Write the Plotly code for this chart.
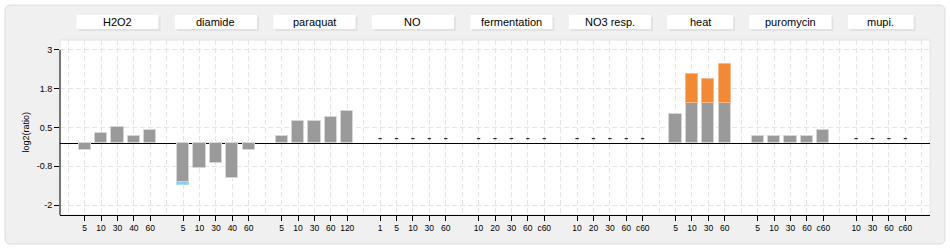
import plotly.graph_objects as go

# ---------------- data ----------------
groups = ["H2O2", "diamide", "paraquat", "NO", "fermentation", "NO3 resp.", "heat", "puromycin", "mupi."]
labels_h2o2 = ["5", "10", "30", "40", "60"]
labels_diamide = ["5", "10", "30", "40", "60"]
labels_paraquat = ["5", "10", "30", "60", "120"]
labels_no = ["1", "5", "10", "30", "60"]
labels_ferm = ["10", "20", "30", "60", "c60"]
labels_no3 = ["10", "20", "30", "60", "c60"]
labels_heat = ["5", "10", "30", "60"]
labels_puro = ["5", "10", "30", "60", "c60"]
labels_mupi = ["10", "30", "60", "c60"]

vals_h2o2 = [-0.23, 0.32, 0.53, 0.24, 0.42]
vals_diamide = [-1.27, -0.82, -0.63, -1.13, -0.22]
vals_paraquat = [0.24, 0.72, 0.72, 0.83, 1.03]
vals_no = [None, None, None, None, None]
vals_ferm = [None, None, None, None, None]
vals_no3 = [None, None, None, None, None]
vals_heat = [0.92, 1.28, 1.28, 1.28]
vals_puro = [0.24, 0.24, 0.24, 0.24, 0.43]
vals_mupi = [None, None, None, None]

# portions beyond the display limit (stacked in colour)
over_heat = [None, 0.96, 0.77, 1.26]          # orange, above
under_diamide = [-0.07, None, None, None, None]  # blue, below

y_tickvals = [3, 1.75, 0.5, -0.75, -2]
y_ticktext = ["3", "1.8", "0.5", "-0.8", "-2"]

group_labels = [labels_h2o2, labels_diamide, labels_paraquat, labels_no, labels_ferm,
                labels_no3, labels_heat, labels_puro, labels_mupi]
group_vals = [vals_h2o2, vals_diamide, vals_paraquat, vals_no, vals_ferm,
              vals_no3, vals_heat, vals_puro, vals_mupi]

# ---------------- layout geometry ----------------
W, H = 950, 250
PL, PR, PT, PB = 60, 930, 40, 215
XMIN, XMAX = -0.5, 52.5
YMIN, YMAX = -2.32, 3.32
SLOT_PX = (PR - PL) / (XMAX - XMIN)
FONT = "Liberation Sans, Arial, sans-serif"


def pxx(px):
    return (px - PL) / (PR - PL)


def pxy(py):
    return (PB - py) / (PB - PT)


# build slot positions
xs, ticktext, values, spans = [], [], [], []
pos = 1
for labs, vals in zip(group_labels, group_vals):
    start = pos
    for lab, v in zip(labs, vals):
        xs.append(pos)
        ticktext.append(lab)
        values.append(v)
        pos += 1
    spans.append((start, pos - 1))
    pos += 1

heat_start = spans[6][0]
heat_x = list(range(heat_start, heat_start + len(labels_heat)))
diam_start = spans[1][0]
diam_x = list(range(diam_start, diam_start + len(labels_diamide)))

fig = go.Figure()
bar_line = dict(color="#d6d6d6", width=1)
fig.add_trace(go.Bar(x=xs, y=values, marker=dict(color="#9a9a9a", line=bar_line),
                     width=0.74, showlegend=False, hoverinfo="skip"))
fig.add_trace(go.Bar(x=heat_x, y=over_heat, marker=dict(color="#f28a35", line=dict(color="#f7b98a", width=1)),
                     width=0.74, showlegend=False, hoverinfo="skip"))
fig.add_trace(go.Bar(x=diam_x, y=under_diamide, marker=dict(color="#87cdf5", line=dict(color="#a9dcf8", width=1)),
                     width=0.74, showlegend=False, hoverinfo="skip"))

# markers for missing values
miss_x = [x for x, v in zip(xs, values) if v is None]
fig.add_trace(go.Scatter(x=miss_x, y=[0.14] * len(miss_x), mode="markers",
                         marker=dict(symbol="line-ew", size=2.4, color="black",
                                     line=dict(color="black", width=1)),
                         showlegend=False, hoverinfo="skip", cliponaxis=False))

shapes = []
# outer rounded frame
x0, x1, y0, y1, r = 5, 945, 5, 244, 6
def P(px, py):
    return f"{pxx(px)},{pxy(py)}"
path = (f"M {P(x0 + r, y0)} L {P(x1 - r, y0)} Q {P(x1, y0)} {P(x1, y0 + r)} "
        f"L {P(x1, y1 - r)} Q {P(x1, y1)} {P(x1 - r, y1)} "
        f"L {P(x0 + r, y1)} Q {P(x0, y1)} {P(x0, y1 - r)} "
        f"L {P(x0, y0 + r)} Q {P(x0, y0)} {P(x0 + r, y0)} Z")
shapes.append(dict(type="path", xref="paper", yref="paper", path=path,
                   fillcolor="#f0f0f0", line=dict(color="#dcdcdc", width=1), layer="below"))
# plot area
shapes.append(dict(type="rect", xref="paper", yref="paper", x0=0, x1=1, y0=0, y1=1,
                   fillcolor="white", line=dict(color="#e2e2e2", width=1), layer="below"))
# y axis line from top tick down to bottom
shapes.append(dict(type="line", xref="paper", yref="y", x0=0, x1=0, y0=YMIN, y1=3,
                   line=dict(color="black", width=1), layer="above"))

annotations = []
off = 2 / SLOT_PX
for name, (a, b) in zip(groups, spans):
    bx0, bx1 = a - 0.5, b + 0.5
    shapes.append(dict(type="rect", xref="x", yref="paper", x0=bx0 + off, x1=bx1 + off,
                       y0=pxy(31), y1=pxy(17), fillcolor="#e2e2e2", line=dict(width=0), layer="below"))
    shapes.append(dict(type="rect", xref="x", yref="paper", x0=bx0, x1=bx1,
                       y0=pxy(29), y1=pxy(15), fillcolor="white", line=dict(width=0), layer="below"))
    annotations.append(dict(x=(a + b) / 2, y=pxy(22), xref="x", yref="paper", text=name,
                            showarrow=False, font=dict(family=FONT, size=11, color="black"),
                            xanchor="center", yanchor="middle"))

annotations.append(dict(x=pxx(25.5), y=pxy(132), xref="paper", yref="paper", text="log2(ratio)",
                        textangle=-90, showarrow=False, font=dict(family=FONT, size=9, color="black"),
                        xanchor="center", yanchor="middle"))

grid_style = dict(gridcolor="#e4e4e4", gridwidth=1, griddash="5px,3px")

fig.update_layout(
    width=W, height=H,
    margin=dict(l=PL, r=W - PR, t=PT, b=H - PB),
    paper_bgcolor="white", plot_bgcolor="rgba(0,0,0,0)",
    barmode="relative", bargap=0,
    shapes=shapes, annotations=annotations,
    font=dict(family=FONT, color="black"),
    xaxis=dict(range=[XMIN, XMAX], tickmode="array", tickvals=xs, ticktext=ticktext,
               ticks="outside", ticklen=5, tickcolor="black", tickwidth=1,
               tickfont=dict(family=FONT, size=8.5, color="black"),
               showline=True, linecolor="black", linewidth=1, zeroline=False,
               showgrid=True, **grid_style,
               minor=dict(tickmode="linear", tick0=0, dtick=1, showgrid=True, ticks="", **grid_style),
               fixedrange=True),
    yaxis=dict(range=[YMIN, YMAX], tickmode="array", tickvals=y_tickvals, ticktext=y_ticktext,
               ticks="outside", ticklen=5, tickcolor="black", tickwidth=1,
               tickfont=dict(family=FONT, size=9, color="black"),
               showline=False, zeroline=True, zerolinecolor="black", zerolinewidth=1,
               showgrid=True, **grid_style, fixedrange=True),
)

fig.write_html("out.html")
